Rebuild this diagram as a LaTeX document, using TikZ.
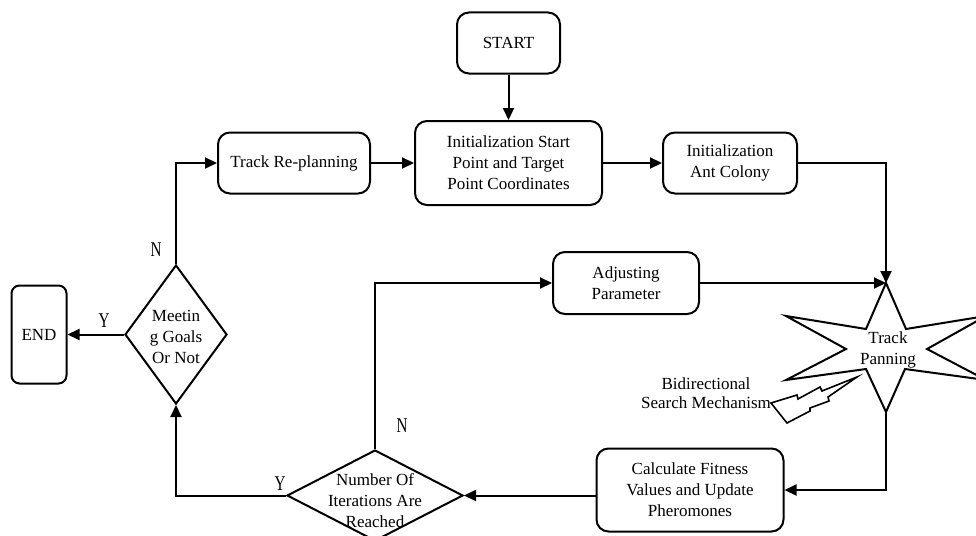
\documentclass[tikz,border=0pt]{standalone}
\usepackage{fontspec}
\setmainfont{Liberation Serif}
\newfontfamily\ynfont[FakeStretch=0.72]{Liberation Serif}
\usepackage{tikz}
\usetikzlibrary{shapes.geometric,arrows.meta,positioning,calc}

\begin{document}
\begin{tikzpicture}[
  x=1pt, y=-1pt,
  line width=2pt,
  font=\fontsize{17}{21}\selectfont,
  mybox/.style={
    draw,
    rounded corners=12pt,
    align=center,
    minimum width=#1,
    minimum height=61pt,
    inner sep=2pt
    },
  mydiamond/.style={
    draw,
    diamond,
    inner sep=0pt
    },
  myarrow/.style={
    -{Triangle[length=12pt,width=11pt]}
    },
  yn/.style={
    font=\ynfont\fontsize{21}{21}\selectfont,
    inner sep=0pt
  }
]

\useasboundingbox (0,0) rectangle (976,535);
\clip (0,0) rectangle (976,535);

% boxes
\node[mybox=103pt] (start) at (508.5,43) {START};
\node[mybox=187pt, minimum height=84pt] (init) at (508.5,163)
  {Initialization Start\\Point and Target\\Point Coordinates};
\node[mybox=134pt] (ant) at (730,163) {Initialization\\Ant Colony};
\node[mybox=152pt] (replan) at (294,163) {Track Re-planning};
\node[mybox=146pt, minimum height=62pt] (adjust) at (626,283) {Adjusting\\Parameter};
\node[mybox=187pt, minimum height=83pt] (calc) at (690,490)
  {Calculate Fitness\\Values and Update\\Pheromones};
\node[mybox=55pt, minimum height=98pt, rounded corners=8pt] (end) at (39,334.5) {END};

% decisions
\node[mydiamond, minimum width=102pt, minimum height=139pt,
  label={[align=center,yshift=-2pt]center:Meetin\\g Goals\\Or Not}]
  (meet) at (176,334.5) {};
\node[mydiamond, minimum width=176pt, minimum height=91pt,
  label={[align=center,yshift=-5pt]center:Number Of\\Iterations Are\\Reached}]
  (num) at (375,495.5) {};

% track panning star
\draw (886,283) -- (906,329) -- (986,316) -- (927,349) -- (986,380)
  -- (905,369) -- (886,412) -- (866,369) -- (786,380) -- (846,349)
  -- (786,316) -- (866,329) -- cycle;
\coordinate (startip) at (886,283);
\coordinate (starbot) at (886,412);
\node[align=center] (panning) at (888,350) {Track\\Panning};

% bidirectional search
\draw[line width=1.6pt] (771,403) -- (797,395) -- (798,399) -- (820,387) -- (822,391)
  -- (857,377) -- (828,397) -- (829,401) -- (810,408) -- (810,411) -- (787,423) -- cycle;
\node[align=center, font=\fontsize{17}{19.5}\selectfont] (bidir) at (706,393)
  {Bidirectional\\Search Mechanism};

% connectors
\draw[myarrow] (start) -- (init);
\draw[myarrow] (replan) -- (init);
\draw[myarrow] (init) -- (ant);
\draw[myarrow] (ant.east) -| (startip);
\draw[myarrow] (adjust.east) -- (startip);
\draw[myarrow] (starbot) |- (calc.east);
\draw[myarrow] (num.east -| calc.west) -- (num.east);
\draw[myarrow] (num.west) -| (meet.south);
\draw[myarrow] (num.north) |- (adjust.west);
\draw[myarrow] (meet.west) -- (end.east);
\draw[myarrow] (meet.north) |- (replan.west);

% branch labels
\node[yn] (ynum) at (280,484) {Y};
\node[yn] (nnum) at (402,426) {N};
\node[yn] (ymeet) at (104,321) {Y};
\node[yn] (nmeet) at (156,250) {N};

\end{tikzpicture}
\end{document}
